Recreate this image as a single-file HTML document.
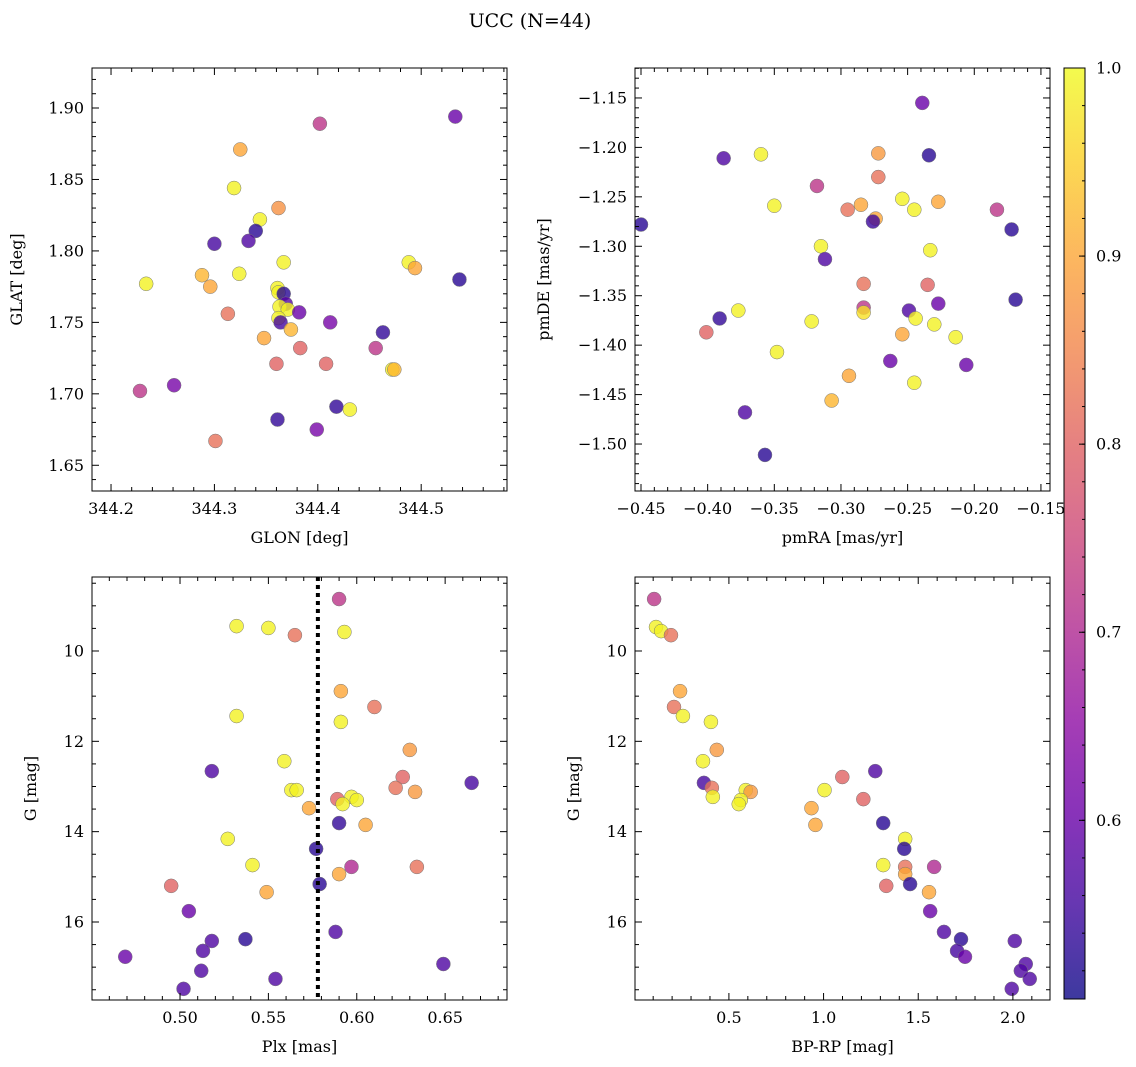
<!DOCTYPE html>
<html><head><meta charset="utf-8"><style>
body{margin:0;background:#fff;}
svg{display:block;font-family:"DejaVu Serif","Liberation Serif",serif;}
</style></head><body>
<svg id="fig" width="1136" height="1067" viewBox="0 0 1136 1067" xmlns="http://www.w3.org/2000/svg">
<text x="530" y="27" text-anchor="middle" font-size="19">UCC (N=44)</text>
</svg>
<script>
// ---- data: top-left (GLON vs GLAT) ----
const glonTL=[344.533,344.402,344.325,344.319,344.362,344.344,344.340,344.333,344.300,344.367,344.488,344.494,344.361,344.362,344.367,344.369,344.363,344.371,344.382,344.362,344.364,344.374,344.234,344.288,344.296,344.324,344.313,344.537,344.412,344.463,344.348,344.383,344.456,344.360,344.408,344.472,344.474,344.228,344.261,344.418,344.431,344.361,344.399,344.301];
const glatTL=[1.894,1.889,1.871,1.844,1.830,1.822,1.814,1.807,1.805,1.792,1.792,1.788,1.774,1.771,1.770,1.763,1.761,1.759,1.757,1.753,1.750,1.745,1.777,1.783,1.775,1.784,1.756,1.780,1.750,1.743,1.739,1.732,1.732,1.721,1.721,1.717,1.717,1.702,1.706,1.691,1.689,1.682,1.675,1.667];
const probTL=[0.6,0.72,0.9,0.99,0.87,0.99,0.53,0.57,0.56,0.99,0.99,0.9,0.99,0.99,0.53,0.58,0.99,0.99,0.6,0.99,0.56,0.92,0.99,0.92,0.9,0.99,0.82,0.53,0.62,0.54,0.9,0.8,0.72,0.8,0.8,0.99,0.92,0.72,0.62,0.54,0.99,0.54,0.62,0.82];
// ---- top-right (pmRA vs pmDE) ----
const pmraTR=[-0.239,-0.388,-0.234,-0.360,-0.272,-0.318,-0.272,-0.450,-0.172,-0.183,-0.350,-0.295,-0.285,-0.254,-0.245,-0.227,-0.274,-0.276,-0.315,-0.233,-0.312,-0.169,-0.283,-0.235,-0.283,-0.283,-0.249,-0.227,-0.377,-0.391,-0.244,-0.322,-0.230,-0.401,-0.254,-0.214,-0.348,-0.263,-0.206,-0.294,-0.245,-0.307,-0.372,-0.357];
const pmdeTR=[-1.155,-1.211,-1.208,-1.207,-1.206,-1.239,-1.230,-1.278,-1.283,-1.263,-1.259,-1.263,-1.258,-1.252,-1.263,-1.255,-1.272,-1.275,-1.300,-1.304,-1.313,-1.354,-1.338,-1.339,-1.362,-1.367,-1.365,-1.358,-1.365,-1.373,-1.373,-1.376,-1.379,-1.387,-1.389,-1.392,-1.407,-1.416,-1.420,-1.431,-1.438,-1.456,-1.468,-1.511];
const probTR=[0.6,0.57,0.53,0.99,0.88,0.72,0.82,0.53,0.53,0.72,0.99,0.82,0.9,0.99,0.99,0.9,0.9,0.55,0.99,0.99,0.57,0.53,0.82,0.8,0.72,0.97,0.57,0.6,0.99,0.54,0.99,0.99,0.99,0.8,0.9,0.99,0.99,0.6,0.6,0.9,0.99,0.92,0.57,0.53];
// ---- bottom-left (Plx vs G) ----
const plxBL=[0.590,0.532,0.550,0.565,0.593,0.591,0.610,0.532,0.591,0.630,0.559,0.518,0.626,0.665,0.622,0.563,0.566,0.633,0.589,0.597,0.600,0.592,0.573,0.605,0.590,0.527,0.577,0.541,0.597,0.634,0.590,0.579,0.495,0.549,0.505,0.588,0.537,0.518,0.513,0.469,0.649,0.512,0.554,0.502];
const gBL=[8.85,9.45,9.49,9.65,9.58,10.89,11.24,11.44,11.57,12.19,12.44,12.66,12.79,12.92,13.03,13.08,13.08,13.12,13.28,13.23,13.30,13.39,13.48,13.85,13.81,14.16,14.38,14.74,14.78,14.78,14.94,15.16,15.20,15.34,15.76,16.22,16.38,16.42,16.64,16.77,16.93,17.08,17.26,17.48];
const probBL=[0.72,0.99,0.99,0.82,0.99,0.9,0.82,0.99,0.99,0.88,0.99,0.57,0.8,0.56,0.82,0.99,0.99,0.88,0.8,0.99,0.99,0.99,0.9,0.9,0.54,0.99,0.53,0.99,0.7,0.82,0.9,0.53,0.8,0.9,0.6,0.57,0.53,0.57,0.57,0.6,0.57,0.57,0.57,0.57];
const plxLine=0.578;
// ---- bottom-right (BP-RP vs G) ----
const bprpBR=[0.105,0.115,0.142,0.194,0.242,0.210,0.257,0.405,0.436,0.363,1.273,1.099,0.368,0.410,0.589,1.005,0.615,1.210,0.415,0.563,0.552,0.936,0.957,1.315,1.431,1.426,1.315,1.584,1.431,1.431,1.457,1.331,1.557,1.563,1.636,1.726,2.010,1.705,1.747,2.068,2.042,2.089,1.994];
const gBR=[8.85,9.47,9.56,9.65,10.89,11.24,11.44,11.57,12.19,12.44,12.66,12.79,12.92,13.03,13.08,13.08,13.12,13.28,13.23,13.30,13.39,13.48,13.85,13.81,14.16,14.38,14.74,14.78,14.78,14.94,15.16,15.20,15.34,15.76,16.22,16.38,16.42,16.64,16.77,16.93,17.08,17.26,17.48];
const probBR=[0.72,0.99,0.99,0.82,0.9,0.82,0.99,0.99,0.88,0.99,0.57,0.8,0.56,0.82,0.99,0.99,0.88,0.8,0.99,0.99,0.99,0.9,0.9,0.53,0.99,0.53,0.99,0.7,0.82,0.9,0.53,0.8,0.9,0.6,0.57,0.53,0.57,0.56,0.6,0.57,0.57,0.57,0.57];
const cbarTicks=[0.6,0.7,0.8,0.9,1.0];

const NS='http://www.w3.org/2000/svg';
const svg=document.getElementById('fig');
function mk(tag,attrs,parent){const e=document.createElementNS(NS,tag);for(const k in attrs)e.setAttribute(k,attrs[k]);(parent||svg).appendChild(e);return e;}
const stops=[[0.05,0.03,0.53],[0.25,0.02,0.62],[0.42,0,0.66],[0.56,0.05,0.64],[0.69,0.16,0.56],[0.8,0.28,0.47],[0.88,0.39,0.38],[0.95,0.52,0.29],[0.99,0.65,0.21],[0.99,0.81,0.15],[0.94,0.98,0.13]];
const CMIN=0.505,CMAX=1.0;
function cmap(v){let t=(v-CMIN)/(CMAX-CMIN);t=Math.max(0,Math.min(1,t));const f=t*10,i=Math.min(9,Math.floor(f)),r=f-i;const a=stops[i],b=stops[i+1];return 'rgb('+[0,1,2].map(k=>Math.round(255*(a[k]+(b[k]-a[k])*r))).join(',')+')';}
function fmt(v,d){const s=Math.abs(v).toFixed(d);return (v<-1e-9?'\u2212':'')+s;}

function panel(o){
  const g=mk('g',{});
  
  
  const sx=v=>o.x0+(v-o.xmin)/(o.xmax-o.xmin)*(o.x1-o.x0);
  const sy=o.invert?(v=>o.y0+(v-o.ymin)/(o.ymax-o.ymin)*(o.y1-o.y0)):(v=>o.y1-(v-o.ymin)/(o.ymax-o.ymin)*(o.y1-o.y0));
  const cp='clip-'+o.name;
  const cl=mk('clipPath',{id:cp},g);mk('rect',{x:o.x0,y:o.y0,width:o.x1-o.x0,height:o.y1-o.y0},cl);
  const pg=mk('g',{'clip-path':'url(#'+cp+')'},g);
  for(let i=0;i<o.xs.length;i++){
    const c=mk('circle',{cx:sx(o.xs[i]),cy:sy(o.ys[i]),r:7,fill:cmap(o.cs[i]),'fill-opacity':0.8,stroke:'#777','stroke-width':0.5},pg);
    
    
  }
  if(o.vline!==undefined){
    const l=mk('line',{x1:sx(o.vline),x2:sx(o.vline),y1:o.y0,y2:o.y1,stroke:'#000','stroke-width':4,'stroke-dasharray':'4,4'},g);
    
    
  }
  mk('rect',{x:o.x0,y:o.y0,width:o.x1-o.x0,height:o.y1-o.y0,fill:'none',stroke:'#000','stroke-width':1},g);
  const eps=1e-9;
  for(let v=Math.ceil(o.xmin/o.xminor-eps)*o.xminor;v<=o.xmax+eps;v+=o.xminor){
    const px=sx(v);const maj=Math.abs(v/o.xmajor-Math.round(v/o.xmajor))<1e-4;const L=maj?7:4;
    mk('line',{x1:px,x2:px,y1:o.y1,y2:o.y1-L,stroke:'#000','stroke-width':1},g);
    mk('line',{x1:px,x2:px,y1:o.y0,y2:o.y0+L,stroke:'#000','stroke-width':1},g);
    if(maj){const t=mk('text',{x:px,y:o.y1+23,'text-anchor':'middle','font-size':16},g);t.textContent=fmt(v,o.xdec);
      }
  }
  for(let v=Math.ceil(o.ymin/o.yminor-eps)*o.yminor;v<=o.ymax+eps;v+=o.yminor){
    const py=sy(v);const maj=Math.abs(v/o.ymajor-Math.round(v/o.ymajor))<1e-4;const L=maj?7:4;
    mk('line',{x1:o.x0,x2:o.x0+L,y1:py,y2:py,stroke:'#000','stroke-width':1},g);
    mk('line',{x1:o.x1,x2:o.x1-L,y1:py,y2:py,stroke:'#000','stroke-width':1},g);
    if(maj){const t=mk('text',{x:o.x0-8,y:py+5.5,'text-anchor':'end','font-size':16},g);t.textContent=fmt(v,o.ydec);
      }
  }
  const xl=mk('text',{x:(o.x0+o.x1)/2,y:o.y1+52,'text-anchor':'middle','font-size':16},g);xl.textContent=o.xlabel;
  
  const yx=o.x0-o.ylabOff,yy=(o.y0+o.y1)/2;
  const yl=mk('text',{x:yx,y:yy,'text-anchor':'middle','font-size':16,transform:'rotate(-90 '+yx+' '+yy+')'},g);yl.textContent=o.ylabel;
  
}
panel({name:'glon-glat-panel',x0:92,x1:507,y0:68,y1:491,xmin:344.1816,xmax:344.583,ymin:1.632,ymax:1.928,xmajor:0.1,xminor:0.02,ymajor:0.05,yminor:0.01,xdec:1,ydec:2,xs:glonTL,ys:glatTL,cs:probTL,xlabel:'GLON [deg]',ylabel:'GLAT [deg]',ylabOff:70});
panel({name:'pm-panel',x0:635,x1:1050,y0:68,y1:491,xmin:-0.4545,xmax:-0.1432,ymin:-1.5475,ymax:-1.1197,xmajor:0.05,xminor:0.01,ymajor:0.05,yminor:0.01,xdec:2,ydec:2,xs:pmraTR,ys:pmdeTR,cs:probTR,xlabel:'pmRA [mas/yr]',ylabel:'pmDE [mas/yr]',ylabOff:86});
panel({name:'plx-g-panel',x0:92,x1:507,y0:577,y1:1000,xmin:0.4502,xmax:0.685,ymin:8.362,ymax:17.727,invert:true,xmajor:0.05,xminor:0.01,ymajor:2,yminor:0.5,xdec:2,ydec:0,xs:plxBL,ys:gBL,cs:probBL,vline:plxLine,xlabel:'Plx [mas]',ylabel:'G [mag]',ylabOff:56});
panel({name:'cmd-panel',x0:635,x1:1050,y0:577,y1:1000,xmin:0.004,xmax:2.196,ymin:8.362,ymax:17.727,invert:true,xmajor:0.5,xminor:0.1,ymajor:2,yminor:0.5,xdec:1,ydec:0,xs:bprpBR,ys:gBR,cs:probBR,xlabel:'BP-RP [mag]',ylabel:'G [mag]',ylabOff:56});

const cb=mk('g',{});


const defs=mk('defs',{},cb);
const lg=mk('linearGradient',{id:'cbg',x1:0,y1:1,x2:0,y2:0},defs);
for(let k=0;k<=20;k++){mk('stop',{offset:k/20,'stop-color':cmap(CMIN+(CMAX-CMIN)*k/20),'stop-opacity':0.8},lg);}
const CY0=68,CY1=999,CX0=1064,CX1=1085;
const cy=v=>CY1-(v-CMIN)/(CMAX-CMIN)*(CY1-CY0);
mk('rect',{x:CX0,y:CY0,width:CX1-CX0,height:CY1-CY0,fill:'url(#cbg)',stroke:'#000','stroke-width':1},cb);
for(let v=0.52;v<=1.0001;v+=0.02){const y=cy(v);mk('line',{x1:CX1,x2:CX1-3,y1:y,y2:y,stroke:'#000'},cb);}
cbarTicks.forEach(v=>{const y=cy(v);mk('line',{x1:CX1,x2:CX1-6,y1:y,y2:y,stroke:'#000'},cb);
  const t=mk('text',{x:CX1+11,y:y+5.5,'font-size':16},cb);t.textContent=v.toFixed(1);
  });
</script>
</body></html>
